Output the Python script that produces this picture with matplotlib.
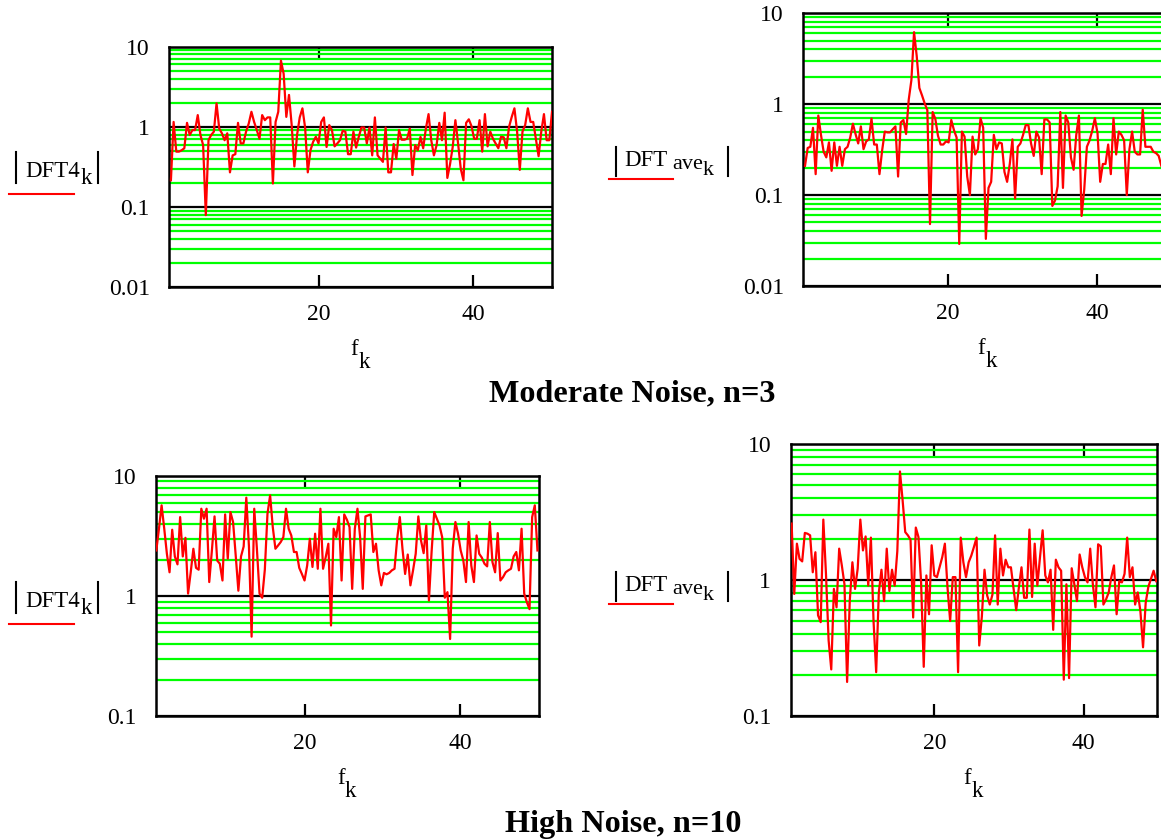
import numpy as np
import matplotlib
matplotlib.use('Agg')
import matplotlib.pyplot as plt
from matplotlib.lines import Line2D
from matplotlib.ticker import LogLocator, NullFormatter

plt.rcParams['font.family'] = 'Liberation Serif'

# |DFT4_k|, moderate noise
dft4_moderate = [
    0.215, 1.15, 0.49, 0.49, 0.51, 0.54, 1.12, 0.79, 0.91, 0.91, 1.40, 0.79, 0.59, 0.079,
    0.68, 0.79, 0.87, 1.96, 0.95, 0.83, 0.68, 0.83, 0.27, 0.44, 0.455, 1.12, 0.62, 0.62,
    0.87, 1.10, 1.54, 1.15, 0.91, 0.71, 1.40, 1.21, 1.31, 1.31, 0.196, 1.15, 1.54, 6.7,
    4.6, 1.33, 2.5, 1.05, 0.32, 0.79, 1.31, 1.70, 0.98, 0.27, 0.51, 0.65, 0.75, 0.62,
    1.15, 1.31, 0.56, 1.05, 0.91, 0.57, 0.62, 0.68, 0.89, 0.87, 0.455, 0.455, 0.87, 0.55,
    0.75, 0.98, 0.98, 0.62, 0.98, 0.44, 1.31, 0.44, 0.40, 0.365, 0.98, 0.27, 0.27, 0.61,
    0.40, 0.91, 0.69, 0.69, 0.71, 0.95, 0.25, 0.59, 0.51, 0.75, 0.54, 0.95, 1.44, 0.68,
    0.44, 0.59, 1.12, 0.68, 1.50, 0.23, 0.34, 0.56, 1.21, 0.62, 0.30, 0.215, 1.12, 1.24,
    1.02, 0.71, 0.71, 1.21, 0.49, 1.44, 0.57, 0.87, 0.71, 0.62, 0.54, 0.75, 0.74, 0.54,
    1.0, 1.33, 1.70, 0.87, 0.29, 0.87, 1.05, 1.70, 1.15, 1.15, 0.71, 0.43, 0.87, 1.44,
    0.68, 0.68, 1.54,
]

# |DFT_ave_k|, moderate noise (visible part, cut at the right edge)
dftave_moderate = [
    0.21, 0.33, 0.34, 0.55, 0.17, 0.75, 0.46, 0.30, 0.26, 0.38, 0.185, 0.38, 0.21, 0.34,
    0.21, 0.32, 0.34, 0.43, 0.61, 0.47, 0.37, 0.57, 0.32, 0.39, 0.41, 0.695, 0.36, 0.36,
    0.17, 0.31, 0.50, 0.49, 0.49, 0.53, 0.57, 0.16, 0.63, 0.67, 0.47, 1.12, 1.84, 6.2,
    3.4, 1.51, 1.25, 1.02, 0.86, 0.048, 0.82, 0.69, 0.45, 0.36, 0.36, 0.39, 0.38, 0.67,
    0.52, 0.43, 0.029, 0.50, 0.44, 0.16, 0.10, 0.44, 0.28, 0.32, 0.70, 0.55, 0.033, 0.12,
    0.14, 0.46, 0.32, 0.38, 0.37, 0.18, 0.14, 0.22, 0.41, 0.092, 0.34, 0.37, 0.46, 0.59,
    0.59, 0.37, 0.27, 0.50, 0.43, 0.17, 0.68, 0.68, 0.63, 0.076, 0.087, 0.125, 0.82, 0.12,
    0.75, 0.63, 0.26, 0.19, 0.46, 0.75, 0.059, 0.115, 0.34, 0.40, 0.51, 0.70, 0.48, 0.14,
    0.22, 0.22, 0.36, 0.17, 0.70, 0.28, 0.50, 0.46, 0.40, 0.10, 0.32, 0.50, 0.30, 0.28,
    0.28, 0.87, 0.34, 0.34, 0.34, 0.30, 0.29, 0.27, 0.21,
]

# |DFT4_k|, high noise
dft4_high = [
    2.40, 3.64, 5.70, 3.64, 2.25, 1.58, 3.57, 2.14, 1.84, 4.55, 2.14, 3.06, 1.05, 1.58,
    2.48, 1.72, 1.66, 5.34, 4.41, 5.34, 1.31, 2.40, 4.61, 1.98, 1.86, 1.35, 4.79, 2.05,
    5.01, 4.14, 2.18, 1.11, 2.14, 2.59, 6.6, 2.59, 0.46, 5.34, 2.48, 1.05, 0.97, 1.66,
    4.85, 6.9, 3.76, 2.48, 2.64, 2.82, 3.10, 5.34, 3.64, 3.20, 2.33, 2.33, 1.72, 1.53,
    1.35, 1.80, 3.00, 1.75, 3.31, 1.69, 5.34, 1.69, 2.11, 2.73, 0.57, 3.64, 3.10, 4.55,
    1.35, 4.79, 4.33, 3.76, 1.15, 3.64, 5.34, 3.10, 1.15, 4.61, 4.70, 4.79, 2.33, 2.73,
    1.64, 1.23, 1.56, 1.52, 1.56, 1.64, 1.69, 3.00, 4.55, 2.48, 1.53, 2.22, 1.23, 1.64,
    2.25, 4.61, 2.91, 2.28, 3.88, 0.92, 2.33, 5.01, 4.41, 3.88, 3.10, 0.97, 1.08, 0.44,
    2.48, 4.14, 3.31, 2.40, 1.98, 1.31, 4.14, 1.80, 1.31, 3.20, 2.25, 2.09, 1.86, 1.77,
    4.14, 1.92, 1.58, 3.35, 1.35, 1.44, 1.58, 1.64, 1.69, 2.14, 2.33, 1.64, 3.64, 1.05,
    0.89, 0.78, 4.55, 5.70, 2.40,
]

# |DFT_ave_k|, high noise
dftave_high = [
    2.60, 0.79, 1.85, 1.43, 1.37, 2.22, 2.19, 2.13, 1.14, 1.60, 0.55, 0.49, 2.78, 1.11,
    0.36, 0.22, 0.86, 0.63, 1.70, 1.28, 0.93, 0.178, 0.70, 1.35, 0.86, 1.21, 2.78, 1.65,
    2.09, 0.91, 2.05, 0.50, 0.21, 0.81, 1.19, 0.70, 1.70, 0.83, 1.19, 0.91, 1.63, 6.28,
    3.87, 2.25, 2.13, 1.98, 0.53, 2.43, 2.07, 0.96, 0.23, 1.08, 0.56, 1.80, 1.08, 1.05,
    1.24, 1.47, 1.85, 0.88, 0.50, 1.05, 1.05, 0.21, 2.05, 1.35, 1.05, 1.35, 1.51, 1.75,
    2.05, 0.33, 0.54, 1.19, 0.77, 0.66, 0.78, 2.13, 0.66, 1.70, 1.08, 1.41, 1.24, 1.24,
    0.86, 0.60, 0.88, 1.24, 0.74, 0.74, 2.35, 0.75, 1.85, 0.91, 1.47, 2.32, 1.08, 0.96,
    1.19, 0.43, 1.41, 1.24, 1.17, 0.185, 0.93, 0.19, 1.22, 0.93, 0.70, 1.54, 1.24, 1.05,
    0.96, 1.70, 0.93, 0.63, 1.83, 1.77, 0.66, 0.72, 0.81, 1.05, 1.28, 0.56, 0.98, 0.96,
    1.11, 2.05, 1.05, 1.24, 0.66, 0.81, 0.59, 0.32, 0.68, 0.89, 1.02, 1.17, 0.98,
]

x_ticks = [20, 40]
y_ticks = [0.01, 0.1, 1, 10]
y_labels = ['0.01', '0.1', '1', '10']

W, H = 1161, 839
fig = plt.figure(figsize=(W / 100, H / 100), dpi=100)


def fx(x):
    return x / W


def fy(y):
    return 1 - y / H


def line(x0, y0, x1, y1, color='black'):
    fig.add_artist(Line2D([fx(x0), fx(x1)], [fy(y0), fy(y1)], color=color, lw=1.5,
                          transform=fig.transFigure))


def panel(box, xlim, ylim, f_range, vals):
    l, t, r, b = box
    ax = fig.add_axes([fx(l), fy(b), (r - l) / W, (b - t) / H])
    f = np.linspace(f_range[0], f_range[1], len(vals))
    ax.plot(f, vals, color='red', lw=1.6, zorder=3)
    ax.set_yscale('log')
    ax.set_xlim(*xlim)
    ax.set_ylim(*ylim)
    ticks = [(v, s) for v, s in zip(y_ticks, y_labels) if ylim[0] <= v <= ylim[1]]
    ax.set_yticks([v for v, s in ticks], labels=[s for v, s in ticks])
    ax.yaxis.set_minor_locator(LogLocator(base=10, subs=np.arange(2, 10)))
    ax.yaxis.set_minor_formatter(NullFormatter())
    ax.grid(which='minor', axis='y', color='#00ff00', lw=1.6)
    ax.grid(which='major', axis='y', color='black', lw=1.6)
    ax.grid(which='both', axis='x', visible=False)
    ax.set_axisbelow(True)
    ax.set_xticks(x_ticks)
    ax.tick_params(axis='x', direction='in', top=True, length=9, width=1.6,
                   labelsize=17, pad=12)
    ax.tick_params(axis='y', which='both', length=0, labelsize=17, pad=14)
    for s in ax.spines.values():
        s.set_linewidth(1.8)
    # f_k below the axis
    cx = (l + r) / 2
    fig.text(fx(cx - 10.5), fy(b + 68), 'f', fontsize=16.5, va='baseline')
    fig.text(fx(cx - 2.5), fy(b + 81), 'k', fontsize=16.5, va='baseline')
    return ax


panel((169.3, 46.7, 552, 287), (0.64, 50.24), (0.01, 10), (0.85, 50.24), dft4_moderate)
panel((803.3, 13.3, 1173.3, 286), (0.67, 50.2), (0.01, 10), (0.9, 48.6), dftave_moderate)
panel((156, 476, 539, 716.3), (0.81, 50.2), (0.1, 10), (0.85, 50.0), dft4_high)
panel((790.5, 444, 1157, 716), (0.75, 49.8), (0.1, 10), (0.9, 49.7), dftave_high)


# y labels written Mathcad style, with the trace sample underneath
def label_dft4(y):
    line(16, y, 16, y + 31)
    fig.text(fx(25), fy(y + 25), 'DFT4', fontsize=16.5, va='baseline')
    fig.text(fx(81), fy(y + 32), 'k', fontsize=16.5, va='baseline')
    line(98, y, 98, y + 31)
    line(9, y + 42, 74, y + 42, color='red')


def label_dftave(y):
    line(616, y, 616, y + 29)
    fig.text(fx(624), fy(y + 19), 'DFT', fontsize=16.5, va='baseline')
    fig.text(fx(672), fy(y + 22), 'ave', fontsize=16, va='baseline')
    fig.text(fx(703), fy(y + 28), 'k', fontsize=16, va='baseline')
    line(728, y, 728, y + 29)
    line(609, y + 32, 673, y + 32, color='red')


label_dft4(152)
label_dft4(582)
label_dftave(147)
label_dftave(572)

fig.text(fx(632), fy(401), 'Moderate Noise, n=3', fontsize=23.2, fontweight='bold',
         ha='center', va='baseline')
fig.text(fx(623), fy(832), 'High Noise, n=10', fontsize=23.2, fontweight='bold',
         ha='center', va='baseline')

fig.savefig('out.png', dpi=100)
